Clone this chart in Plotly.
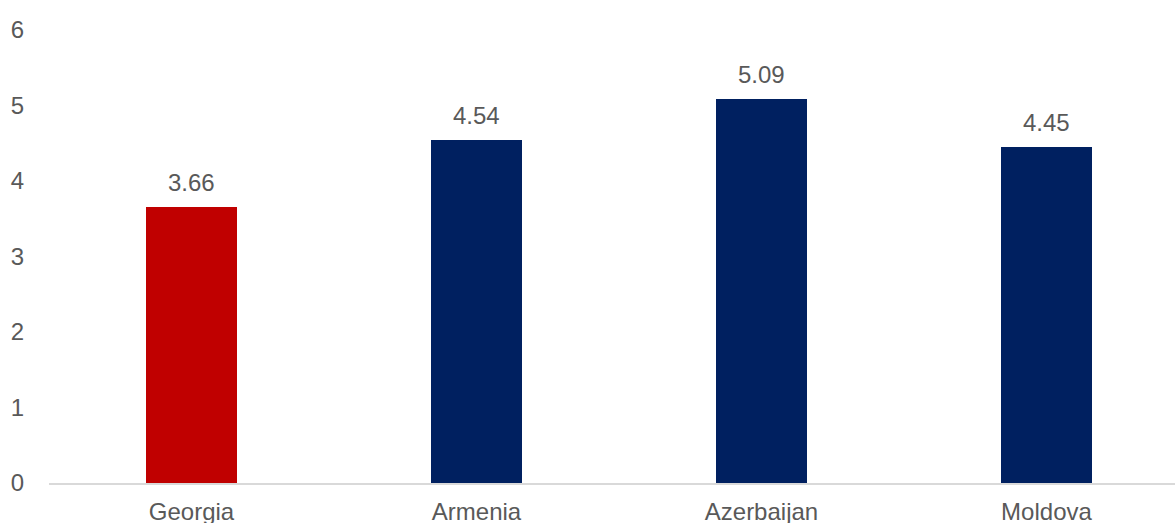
import plotly.graph_objects as go

countries = ["Georgia", "Armenia", "Azerbaijan", "Moldova"]
values = [3.66, 4.54, 5.09, 4.45]
bar_colors = ["#C00000", "#002060", "#002060", "#002060"]
y_ticks = [0, 1, 2, 3, 4, 5, 6]

font_family = "Liberation Sans, Arial, sans-serif"
text_color = "#595959"
font_size = 24

fig = go.Figure(
    go.Bar(
        x=list(range(len(countries))),
        y=values,
        marker=dict(color=bar_colors, line=dict(width=0)),
        width=0.316,
        hoverinfo="skip",
    )
)

# value labels sitting above each bar
for i, v in enumerate(values):
    fig.add_annotation(
        x=i, y=v, text=f"{v:.2f}", showarrow=False,
        yanchor="bottom", yshift=9,
        font=dict(family=font_family, size=font_size, color=text_color),
    )

fig.update_layout(
    width=1175, height=523,
    margin=dict(l=49, r=0, t=30, b=40),
    paper_bgcolor="white", plot_bgcolor="white",
    showlegend=False,
    bargap=0,
    font=dict(family=font_family, size=font_size, color=text_color),
)

fig.update_xaxes(
    range=[-0.5, 3.451],
    tickmode="array",
    tickvals=list(range(len(countries))),
    ticktext=countries,
    showgrid=False, zeroline=False,
    showline=True, linecolor="#D9D9D9", linewidth=1.5,
    ticks="", ticklabelstandoff=6,
    automargin=False,
    tickfont=dict(family=font_family, size=font_size, color=text_color),
)

fig.update_yaxes(
    range=[0, 6],
    tickmode="array",
    tickvals=y_ticks,
    ticktext=[str(t) for t in y_ticks],
    showgrid=False, zeroline=False, showline=False,
    ticks="", ticklabelstandoff=24,
    automargin=False,
    tickfont=dict(family=font_family, size=font_size, color=text_color),
)

fig.write_html("out.html")
